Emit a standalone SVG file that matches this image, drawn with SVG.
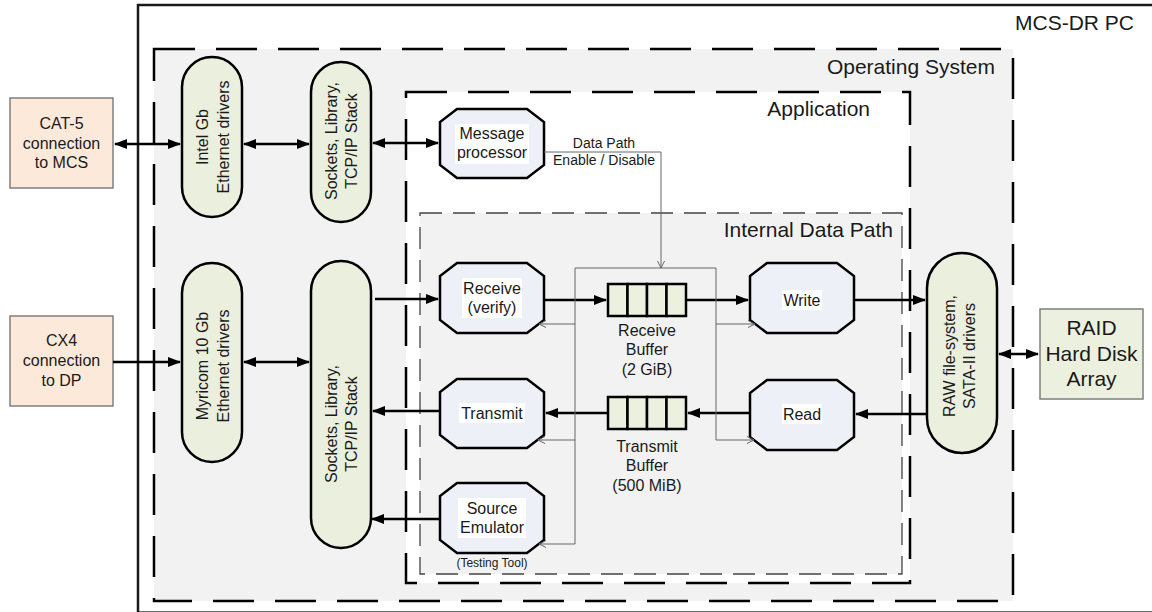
<svg xmlns="http://www.w3.org/2000/svg" width="1152" height="612" viewBox="0 0 1152 612">
<defs>
<style>
text{font-family:"Liberation Sans",Arial,sans-serif;fill:#1a1a1a}
.t16{font-size:16px;text-anchor:middle}
.t21{font-size:21px}
.t14{font-size:14px;text-anchor:middle}
.t12{font-size:12px;text-anchor:middle}
.oct{fill:#edf0f7;stroke:#000;stroke-width:2.5}
.pill{fill:#ebefdd;stroke:#000;stroke-width:2.5}
.ext{fill:#fde9d9;stroke:#7f7f7f;stroke-width:1.5}
.raid{fill:#ebf1de;stroke:#7f7f7f;stroke-width:1.5}
.cell{fill:#ebf1de;stroke:#000;stroke-width:2.5}
.hl{fill:#fff}
.thick{stroke:#000;stroke-width:2.5;fill:none}
.thin{stroke:#666;stroke-width:1;fill:none}
</style>
<marker id="ah" markerUnits="userSpaceOnUse" markerWidth="13" markerHeight="10" refX="12" refY="5" orient="auto-start-reverse"><path d="M0,0 L13,5 L0,10 z" fill="#000"/></marker>
<marker id="oh" markerUnits="userSpaceOnUse" markerWidth="8" markerHeight="8" refX="7" refY="4" orient="auto"><path d="M0,0.5 L7,4 L0,7.5" fill="none" stroke="#666" stroke-width="1"/></marker>
</defs>

<rect width="1152" height="612" fill="#fff"/>

<g id="mcs-dr-pc">
<rect x="138" y="5" width="1030" height="607.6" fill="none" stroke="#1a1a1a" stroke-width="2.5"/>
<text class="t21" x="1134" y="29.5" text-anchor="end">MCS-DR PC</text>
</g>

<g id="operating-system">
<rect x="154" y="49" width="859" height="552" fill="#f2f2f2" stroke="#000" stroke-width="2.5" stroke-dasharray="41 21"/>
<text class="t21" x="995" y="73.5" text-anchor="end">Operating System</text>
</g>

<g id="application">
<rect x="406" y="92" width="504" height="491" fill="#fff" stroke="#000" stroke-width="2.5" stroke-dasharray="41 21"/>
<text class="t21" x="870" y="116" text-anchor="end">Application</text>
</g>

<g id="internal-data-path">
<rect x="420" y="213" width="482" height="361" fill="#f2f2f2" stroke="#444" stroke-width="1.3" stroke-dasharray="22 11"/>
<text class="t21" x="893" y="237" text-anchor="end">Internal Data Path</text>
</g>

<g id="cat5">
<rect class="ext" x="10" y="98" width="103" height="90"/>
<text class="t16" x="61.5" y="129">CAT-5</text>
<text class="t16" x="61.5" y="149">connection</text>
<text class="t16" x="61.5" y="168">to MCS</text>
</g>

<g id="cx4">
<rect class="ext" x="10" y="316" width="103" height="90"/>
<text class="t16" x="61.5" y="346">CX4</text>
<text class="t16" x="61.5" y="366">connection</text>
<text class="t16" x="61.5" y="386">to DP</text>
</g>

<g id="raid">
<rect class="raid" x="1040" y="309" width="103" height="90"/>
<text class="t21" x="1091.5" y="334.5" text-anchor="middle">RAID</text>
<text class="t21" x="1091.5" y="360.5" text-anchor="middle">Hard Disk</text>
<text class="t21" x="1091.5" y="385.5" text-anchor="middle">Array</text>
</g>

<g id="intel-drivers">
<rect class="pill" x="182" y="57" width="60" height="160" rx="30"/>
<g transform="translate(212.5,137) rotate(-90)">
<text class="t16" x="0" y="-5">Intel Gb</text>
<text class="t16" x="0" y="16">Ethernet drivers</text>
</g>
</g>

<g id="myricom-drivers">
<rect class="pill" x="182" y="263" width="60" height="199" rx="30"/>
<g transform="translate(212.5,366) rotate(-90)">
<text class="t16" x="0" y="-5">Myricom 10 Gb</text>
<text class="t16" x="0" y="16">Ethernet drivers</text>
</g>
</g>

<g id="sockets-top">
<rect class="pill" x="311" y="62" width="60" height="160" rx="30"/>
<g transform="translate(341,141) rotate(-90)">
<text class="t16" x="0" y="-4">Sockets, Library,</text>
<text class="t16" x="0" y="16">TCP/IP Stack</text>
</g>
</g>

<g id="sockets-bottom">
<rect class="pill" x="311" y="261" width="60" height="287" rx="30"/>
<g transform="translate(341,424) rotate(-90)">
<text class="t16" x="0" y="-4">Sockets, Library,</text>
<text class="t16" x="0" y="16">TCP/IP Stack</text>
</g>
</g>

<g id="raw-fs">
<rect class="pill" x="927" y="253" width="70" height="200" rx="35"/>
<g transform="translate(959,356) rotate(-90)">
<text class="t16" x="0" y="-4">RAW file-system,</text>
<text class="t16" x="0" y="16">SATA-II drivers</text>
</g>
</g>

<g id="message-processor">
<path class="oct" d="M457,109 H527 L544,122 V165 L527,178 H457 L440,165 V122 Z"/>
<rect class="hl" x="455" y="124" width="74" height="40"/>
<text class="t16" x="492" y="139">Message</text>
<text class="t16" x="492" y="158">processor</text>
</g>

<g id="receive">
<path class="oct" d="M457,263 H527 L544,276 V320 L527,333 H457 L440,320 V276 Z"/>
<rect class="hl" x="462" y="278" width="60" height="40"/>
<text class="t16" x="492" y="293.5">Receive</text>
<text class="t16" x="492" y="313">(verify)</text>
</g>

<g id="transmit">
<path class="oct" d="M457,379 H527 L544,392 V435 L527,448 H457 L440,435 V392 Z"/>
<rect class="hl" x="459" y="403" width="66" height="20"/>
<text class="t16" x="492" y="419">Transmit</text>
</g>

<g id="source-emulator">
<path class="oct" d="M457,483 H527 L544,496 V540 L527,553 H457 L440,540 V496 Z"/>
<rect class="hl" x="458" y="498" width="68" height="40"/>
<text class="t16" x="492" y="513.5">Source</text>
<text class="t16" x="492" y="533">Emulator</text>
<text class="t12" x="492" y="567">(Testing Tool)</text>
</g>

<g id="write">
<path class="oct" d="M767,263 H837 L854,276 V320 L837,333 H767 L750,320 V276 Z"/>
<rect class="hl" x="782" y="290" width="40" height="20"/>
<text class="t16" x="802" y="305.5">Write</text>
</g>

<g id="read">
<path class="oct" d="M767,380 H837 L854,393 V437 L837,450 H767 L750,437 V393 Z"/>
<rect class="hl" x="782" y="404" width="40" height="20"/>
<text class="t16" x="802" y="420">Read</text>
</g>

<g id="receive-buffer">
<rect class="cell" x="608" y="284" width="19.5" height="32"/>
<rect class="cell" x="627.5" y="284" width="19.5" height="32"/>
<rect class="cell" x="647" y="284" width="19.5" height="32"/>
<rect class="cell" x="666.5" y="284" width="19.5" height="32"/>
<text class="t16" x="647" y="335.5">Receive</text>
<text class="t16" x="647" y="355">Buffer</text>
<text class="t16" x="647" y="374.5">(2 GiB)</text>
</g>

<g id="transmit-buffer">
<rect class="cell" x="608" y="397" width="19.5" height="32"/>
<rect class="cell" x="627.5" y="397" width="19.5" height="32"/>
<rect class="cell" x="647" y="397" width="19.5" height="32"/>
<rect class="cell" x="666.5" y="397" width="19.5" height="32"/>
<text class="t16" x="647" y="451.5">Transmit</text>
<text class="t16" x="647" y="471">Buffer</text>
<text class="t16" x="647" y="490.5">(500 MiB)</text>
</g>

<g id="connectors">
<line class="thick" x1="115" y1="144" x2="180" y2="144" marker-start="url(#ah)" marker-end="url(#ah)"/>
<line class="thick" x1="244" y1="144" x2="309" y2="144" marker-start="url(#ah)" marker-end="url(#ah)"/>
<line class="thick" x1="373" y1="143" x2="438" y2="143" marker-start="url(#ah)" marker-end="url(#ah)"/>
<line class="thick" x1="113" y1="362" x2="180" y2="362" marker-end="url(#ah)"/>
<line class="thick" x1="244" y1="362" x2="309" y2="362" marker-start="url(#ah)" marker-end="url(#ah)"/>
<line class="thick" x1="375" y1="299" x2="438" y2="299" marker-end="url(#ah)"/>
<line class="thick" x1="544" y1="300" x2="606" y2="300" marker-end="url(#ah)"/>
<line class="thick" x1="686" y1="300" x2="748" y2="300" marker-end="url(#ah)"/>
<line class="thick" x1="854" y1="300" x2="925" y2="300" marker-end="url(#ah)"/>
<line class="thick" x1="927" y1="414" x2="856" y2="414" marker-end="url(#ah)"/>
<line class="thick" x1="750" y1="413" x2="688" y2="413" marker-end="url(#ah)"/>
<line class="thick" x1="608" y1="413" x2="546" y2="413" marker-end="url(#ah)"/>
<line class="thick" x1="440" y1="411" x2="373" y2="411" marker-end="url(#ah)"/>
<line class="thick" x1="440" y1="519" x2="372" y2="519" marker-end="url(#ah)"/>
<line class="thick" x1="999" y1="354" x2="1038" y2="354" marker-start="url(#ah)" marker-end="url(#ah)"/>

<polyline class="thin" points="544,152 661,152 661,268" marker-end="url(#oh)"/>
<text class="t14" x="604" y="148">Data Path</text>
<text class="t14" x="604" y="165">Enable / Disable</text>
<polyline class="thin" points="575,544 575,268 716,268 716,440"/>
<polyline class="thin" points="575,324 539,324" marker-end="url(#oh)"/>
<polyline class="thin" points="575,440 538,440" marker-end="url(#oh)"/>
<polyline class="thin" points="575,544 539,544" marker-end="url(#oh)"/>
<polyline class="thin" points="716,324 755,324" marker-end="url(#oh)"/>
<polyline class="thin" points="716,440 754,440" marker-end="url(#oh)"/>
</g>
</svg>
